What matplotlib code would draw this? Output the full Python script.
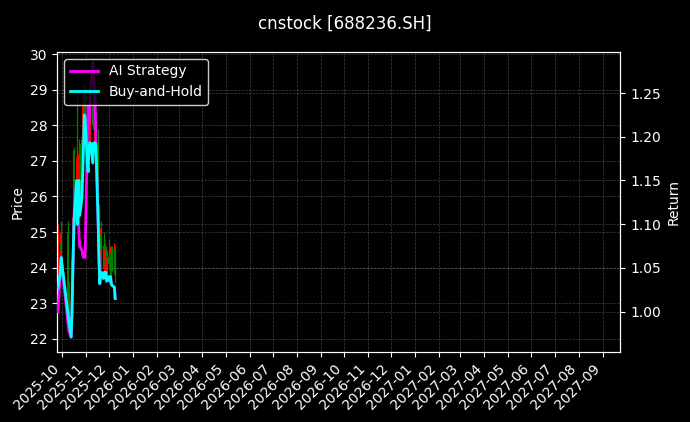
import matplotlib
matplotlib.use("Agg")
import matplotlib.pyplot as plt
import matplotlib.dates as mdates
import pandas as pd
import numpy as np

plt.style.use("dark_background")
plt.rcParams['font.family'] = ['DejaVu Sans']

dates = ["2025-09-26","2025-09-29","2025-09-30","2025-10-09","2025-10-10","2025-10-13","2025-10-14",
         "2025-10-15","2025-10-16","2025-10-17","2025-10-20","2025-10-21","2025-10-22","2025-10-23",
         "2025-10-24","2025-10-27","2025-10-28","2025-10-29","2025-10-30","2025-10-31","2025-11-03",
         "2025-11-04","2025-11-05","2025-11-06","2025-11-07","2025-11-10","2025-11-11","2025-11-12",
         "2025-11-13","2025-11-14","2025-11-17","2025-11-18","2025-11-19","2025-11-20","2025-11-21",
         "2025-11-24","2025-11-25","2025-11-26","2025-11-27","2025-11-28","2025-12-01","2025-12-02",
         "2025-12-03","2025-12-04","2025-12-05","2025-12-08","2025-12-09"]

opens  = [23.3,23.9,24.7,25.0,23.2,22.6,22.5,24.2,25.4,26.9,26.0,27.1,25.8,26.4,27.2,26.3,27.6,28.7,28.4,28.9,
          27.7,27.0,28.3,27.4,28.1,28.5,28.0,28.3,27.5,27.8,26.7,25.4,24.2,24.9,24.5,24.0,24.6,24.2,24.5,23.9,
          24.3,24.1,24.4,23.8,24.4,24.0,24.5]
highs  = [25.2,25.0,25.3,25.3,23.6,23.0,24.5,25.6,27.3,27.4,27.3,28.9,26.6,27.6,27.5,27.9,29.0,29.2,29.1,29.0,
          28.2,28.6,28.5,28.4,28.7,28.9,28.6,28.5,28.0,27.9,27.9,25.8,25.1,25.3,24.9,24.8,25.0,24.7,24.6,24.5,
          24.8,24.6,24.5,24.6,24.6,24.7,24.6]
lows   = [22.9,23.7,24.2,23.0,22.5,22.2,22.4,24.0,25.2,25.8,25.9,25.5,25.2,26.2,26.1,26.1,27.4,28.0,27.8,27.5,
          26.8,26.9,27.2,27.3,27.8,27.9,27.6,27.3,27.2,26.5,25.2,24.0,24.0,24.4,23.8,23.9,24.1,23.9,23.8,23.8,
          24.0,23.9,23.7,23.7,23.9,23.9,23.6]
closes = [24.9,24.7,24.5,23.2,22.7,22.4,24.2,25.4,26.9,26.0,27.1,25.8,26.4,27.2,26.3,27.6,28.7,28.4,28.9,27.7,
          27.0,28.3,27.4,28.1,28.5,28.0,28.3,27.5,27.8,26.7,25.4,24.2,24.9,24.5,24.0,24.6,24.2,24.5,23.9,24.3,
          24.1,24.4,23.8,24.4,24.0,24.5,23.8]

ai_return = [1.000,1.045,1.062,0.985,0.978,0.971,1.000,1.040,1.080,1.110,1.150,1.100,1.115,1.090,1.075,1.070,
             1.065,1.062,1.062,1.062,1.200,1.235,1.215,1.230,1.250,1.285,1.270,1.255,1.240,1.200,1.100,1.060,
             1.032,1.040,1.045,1.038,1.045,1.040,1.045,1.035,1.040,1.035,1.040,1.032,1.030,1.028,1.015]
bh_return = [1.027,1.045,1.062,0.997,0.989,0.971,1.000,1.040,1.080,1.110,1.150,1.100,1.115,1.150,1.110,1.130,
             1.160,1.190,1.225,1.222,1.168,1.160,1.185,1.193,1.193,1.170,1.193,1.190,1.193,1.190,1.100,1.060,
             1.032,1.040,1.045,1.038,1.045,1.040,1.045,1.035,1.040,1.035,1.040,1.032,1.030,1.028,1.015]

title = "cnstock [688236.SH]"

d = pd.to_datetime(dates)
x = mdates.date2num(d)
o = np.array(opens); h = np.array(highs); l = np.array(lows); c = np.array(closes)

fig = plt.figure(figsize=(6.9, 4.22), dpi=100)
fig.patch.set_facecolor("black")
ax = fig.add_axes([0.083, 0.166, 0.816, 0.711])
ax.set_facecolor("black")

up = c >= o
cols = np.where(up, "red", "green")
ax.vlines(x, l, h, colors=cols, linewidth=0.9, zorder=2)
ax.bar(x, np.abs(c - o), bottom=np.minimum(o, c), width=2.0, color=cols, zorder=2)

ax.set_ylabel("Price")
ax.set_ylim(21.63, 30.06)
ax.grid(True, linestyle="--", linewidth=0.5, color="gray", alpha=0.5)

ax2 = ax.twinx()
ax2.plot(x, ai_return, color="magenta", linewidth=2, label="AI Strategy", zorder=3)
ax2.plot(x, bh_return, color="cyan", linewidth=2, label="Buy-and-Hold", zorder=4)
ax2.set_ylabel("Return")
ax2.set_ylim(0.954, 1.297)
ax2.grid(True, linestyle="--", linewidth=0.5, color="gray", alpha=0.5)

start = pd.Timestamp("2025-09-25")
ax.set_xlim(mdates.date2num(start), mdates.date2num(start + pd.Timedelta(days=729)))
ax.xaxis.set_major_locator(mdates.MonthLocator())
ax.xaxis.set_major_formatter(mdates.DateFormatter("%Y-%m"))
for lab in ax.get_xticklabels():
    lab.set_rotation(45)
    lab.set_ha("right")

leg = ax2.legend(loc="upper left", facecolor="black", edgecolor="white", framealpha=0.8)

fig.suptitle(title, fontsize=12, y=0.965)
fig.savefig("out.png", dpi=100, facecolor="black")
